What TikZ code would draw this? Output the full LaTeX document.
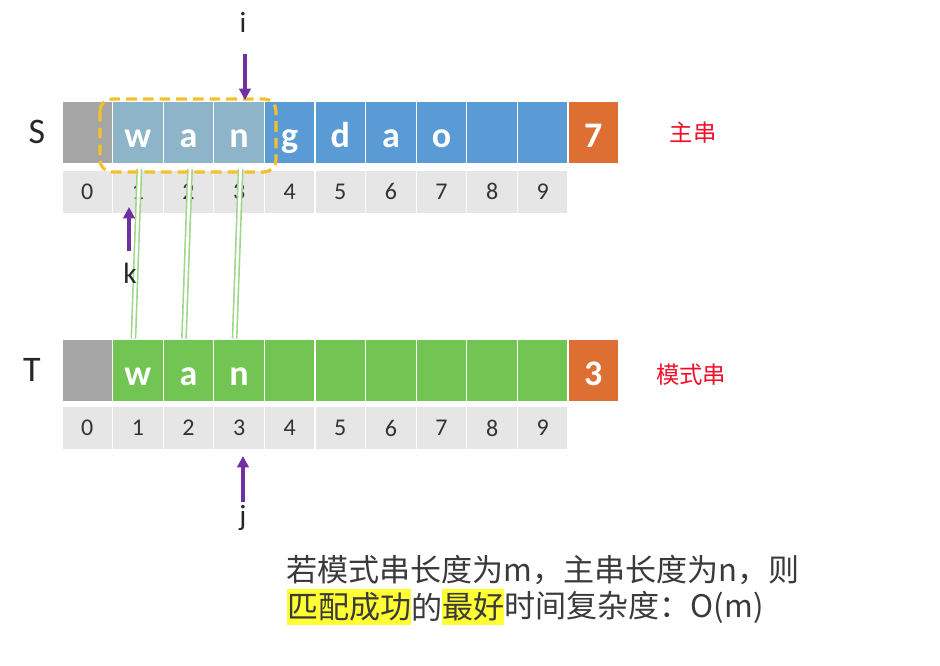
\documentclass[tikz,border=0pt]{standalone}
\usepackage{fontspec}
\setmainfont{Carlito}
\newfontfamily\cjk{Noto Sans CJK SC}
\usetikzlibrary{arrows.meta,calc}
\definecolor{sblue}{HTML}{5B9BD5}
\definecolor{stint}{HTML}{8DB4C8}
\definecolor{cgray}{HTML}{A5A5A5}
\definecolor{corange}{HTML}{DD6F33}
\definecolor{tgreen}{HTML}{72C453}
\definecolor{idxgray}{HTML}{E6E6E6}
\definecolor{ppl}{HTML}{7030A0}
\definecolor{ydash}{HTML}{F2C12E}
\definecolor{glin}{HTML}{9FD68A}
\definecolor{lred}{HTML}{F0102A}
\definecolor{txtc}{HTML}{3A3A3A}
\definecolor{hly}{HTML}{FFFF33}
\tikzset{
  topcell/.style={draw=white, line width=1pt, minimum width=37.95pt, minimum height=47pt, inner sep=0pt, text height=24pt, text depth=2.2pt, text=white, font=\fontsize{27}{27}\selectfont\bfseries},
  idxcell/.style={draw=white, line width=1pt, fill=idxgray, minimum width=37.95pt, minimum height=32.5pt, inner sep=0pt, text=black!80, font=\fontsize{18}{18}\selectfont},
  rowlbl/.style={font=\fontsize{27}{27}\selectfont, text=black!85},
  ptrlbl/.style={font=\fontsize{22}{22}\selectfont, text=black!85},
  ptrarrow/.style={draw=ppl, line width=2.4pt, -{Triangle[length=8.5pt,width=8.5pt]}},
  gline/.style={draw=glin, double=white, line width=1.2pt, double distance=2pt},
  ybox/.style={draw=ydash, line width=2.4pt, dash pattern=on 8pt off 4.5pt, rounded corners=9pt},
  redlbl/.style={font=\cjk\fontsize{17.5}{17.5}\selectfont, text=lred},
  btxt/.style={font=\cjk\fontsize{23.3}{23.3}\selectfont, text=txtc, inner xsep=0pt, inner ysep=3pt, outer sep=0pt, anchor=west},
  bhl/.style={btxt, fill=hly}
}
\begin{document}
\begin{tikzpicture}[x=0.75pt,y=-0.75pt]
\useasboundingbox (0,0) rectangle (940,665);
% S row
\foreach \k/\c/\t in {0/cgray/{},1/stint/w,2/stint/a,3/stint/n,4/sblue/g,5/sblue/d,6/sblue/a,7/sblue/o,8/sblue/{},9/sblue/{},10/corange/7}{
  \pgfmathsetmacro\cx{62+50.6*(\k+0.5)}
  \node[topcell, fill=\c] (s\k) at (\cx,132.5) {\t};
}
\foreach \k in {0,...,9}{
  \pgfmathsetmacro\cx{62+50.6*(\k+0.5)}
  \node[idxcell] (si\k) at (\cx,191.5) {\k};
}
% T row
\foreach \k/\c/\t in {0/cgray/{},1/tgreen/w,2/tgreen/a,3/tgreen/n,4/tgreen/{},5/tgreen/{},6/tgreen/{},7/tgreen/{},8/tgreen/{},9/tgreen/{},10/corange/3}{
  \pgfmathsetmacro\cx{62+50.6*(\k+0.5)}
  \node[topcell, fill=\c] (t\k) at (\cx,370.5) {\t};
}
\foreach \k in {0,...,9}{
  \pgfmathsetmacro\cx{62+50.6*(\k+0.5)}
  \node[idxcell] (ti\k) at (\cx,428) {\k};
}
% row labels
\node[rowlbl] (slab) at (37,132) {S};
\node[rowlbl] (tlab) at (32,370) {T};
\node[redlbl] (zhu) at (693,133) {主串};
\node[redlbl] (mos) at (691,375) {模式串};
% matching lines
\foreach \k in {1,2,3}{
  \draw[gline] ($(si\k.north)+(1.5,0)$) -- ($(t\k.north)+(-4.5,0)$);
}
% highlight box
\draw[ybox] (100,99) rectangle (276,172);
% pointers
\node[ptrlbl] (ilab) at (243,22) {i};
\coordinate (itop) at (245,54);
\coordinate (ibot) at (245,100);
\draw[ptrarrow] (itop) -- (ibot);
\node[ptrlbl] (klab) at (130,273) {k};
\coordinate (kbot) at (129,251);
\coordinate (ktop) at (129,207);
\draw[ptrarrow] (kbot) -- (ktop);
\node[ptrlbl] (jlab) at (243,518) {j};
\coordinate (jbot) at (243,502);
\coordinate (jtop) at (243,456);
\draw[ptrarrow] (jbot) -- (jtop);
% bottom text
\node[btxt] (l1) at (286,570) {若模式串长度为m，主串长度为n，则};
\node[bhl] (h1) at (287,607) {匹配成功};
\node[btxt] (h2) at (h1.east) {的};
\node[bhl] (h3) at (h2.east) {最好};
\node[btxt] (h4) at (h3.east) {时间复杂度：O(m)};
\end{tikzpicture}
\end{document}
